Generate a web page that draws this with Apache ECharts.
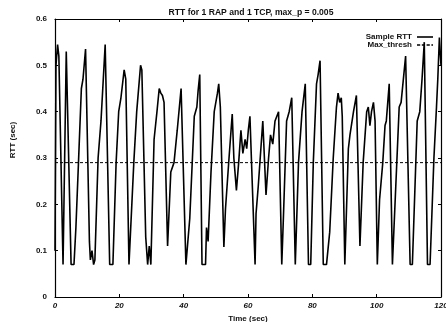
<!DOCTYPE html>
<html>
<head>
<meta charset="utf-8">
<script src="https://cdn.jsdelivr.net/npm/echarts@6/dist/echarts.min.js"></script>
<style>html,body{margin:0;padding:0;background:#fff}#c{width:446px;height:322px}</style>
</head>
<body>
<div id="c"></div>
<script>
var titleText = 'RTT for 1 RAP and 1 TCP, max_p = 0.005';
var xName = 'Time (sec)';
var yName = 'RTT (sec)';
var seriesNames = ['Sample RTT', 'Max_thresh'];
var xTicks = [0, 20, 40, 60, 80, 100, 120];
var yTicks = [0, 0.1, 0.2, 0.3, 0.4, 0.5, 0.6];
var timeSec = [0.0,0.3,0.8,1.2,2.5,2.9,3.5,5.0,5.9,6.5,7.3,8.2,8.7,9.5,10.7,11.0,11.5,12.0,12.4,13.4,14.3,15.6,17.0,18.0,19.0,19.8,20.5,21.5,22.0,23.0,23.5,24.5,25.4,26.6,27.0,28.2,28.8,29.3,29.8,30.8,31.7,32.4,32.9,33.4,33.9,35.0,35.5,36.0,37.0,38.0,39.2,40.7,41.1,41.9,43.3,44.1,44.5,45.0,45.7,46.8,47.1,47.6,48.5,49.5,50.5,50.9,51.4,52.5,53.0,54.1,55.1,55.6,56.4,57.1,57.8,58.4,59.1,59.6,60.1,60.6,62.2,62.5,63.2,64.6,65.6,66.4,67.0,67.7,68.4,69.5,70.5,71.0,72.0,72.8,73.6,74.7,75.7,76.8,77.8,78.8,79.5,80.3,81.3,81.8,82.4,83.4,84.4,85.4,86.5,87.5,88.0,88.5,89.0,89.3,90.1,91.2,91.7,92.8,93.7,94.8,95.8,96.9,97.4,97.9,98.4,99.0,99.5,100.2,100.9,101.9,102.6,103.0,103.9,104.9,105.5,107.0,107.6,109.0,110.4,111.1,112.6,113.4,114.1,114.8,115.8,116.6,117.8,118.6,119.0,119.5,120.0];
var rttSec = [0.10,0.50,0.545,0.52,0.07,0.07,0.53,0.07,0.07,0.15,0.29,0.45,0.47,0.535,0.12,0.08,0.10,0.07,0.08,0.30,0.38,0.545,0.07,0.07,0.29,0.40,0.43,0.49,0.47,0.07,0.07,0.29,0.40,0.50,0.49,0.13,0.07,0.11,0.07,0.34,0.40,0.45,0.44,0.435,0.42,0.11,0.19,0.27,0.29,0.36,0.45,0.07,0.07,0.17,0.39,0.41,0.446,0.48,0.07,0.07,0.15,0.12,0.27,0.40,0.44,0.46,0.41,0.108,0.19,0.30,0.395,0.30,0.23,0.29,0.36,0.31,0.34,0.32,0.36,0.39,0.07,0.18,0.24,0.38,0.22,0.30,0.35,0.33,0.38,0.40,0.07,0.17,0.38,0.40,0.43,0.07,0.29,0.40,0.46,0.07,0.07,0.29,0.46,0.48,0.51,0.07,0.07,0.14,0.30,0.41,0.44,0.42,0.43,0.39,0.07,0.32,0.35,0.40,0.435,0.11,0.29,0.40,0.41,0.37,0.40,0.42,0.38,0.07,0.21,0.29,0.37,0.38,0.46,0.07,0.07,0.41,0.42,0.52,0.07,0.07,0.38,0.40,0.47,0.55,0.07,0.07,0.30,0.41,0.47,0.56,0.50];
var threshTime = [0, 120];
var threshValue = [0.29, 0.29];

var rttData = timeSec.map(function (t, i) { return [t, rttSec[i]]; });
var threshData = threshTime.map(function (t, i) { return [t, threshValue[i]]; });

var font = 'Liberation Sans';
var chart = echarts.init(document.getElementById('c'), null, {renderer: 'canvas'});
function axisCommon() {
  return {
    axisLine: {show: true, onZero: false, lineStyle: {color: '#000', width: 1.2}},
    axisTick: {show: true, inside: true, length: 3, lineStyle: {color: '#000', width: 1}},
    splitLine: {show: false}
  };
}
chart.setOption({
  animation: false,
  backgroundColor: '#fff',
  title: {
    text: titleText, left: 246, top: 3, textAlign: 'center',
    textStyle: {fontFamily: font, fontSize: 8.6, fontWeight: 'bold', color: '#111'}
  },
  legend: {
    right: 8, top: 28, orient: 'vertical', align: 'right', itemGap: 0,
    itemWidth: 16, itemHeight: 6,
    textStyle: {fontFamily: font, fontSize: 8, fontWeight: 'bold', color: '#111'},
    data: [
      {name: seriesNames[0], icon: 'path://M0,0 L10,0 L10,1 L0,1 Z'},
      {name: seriesNames[1], icon: 'path://M0,0 L2,0 L2,1 L0,1 Z M3,0 L5,0 L5,1 L3,1 Z M6,0 L8,0 L8,1 L6,1 Z M9,0 L10,0 L10,1 L9,1 Z'}
    ]
  },
  grid: {left: 55, right: 5, top: 19, bottom: 25, show: false, containLabel: false, outerBoundsMode: 'none'},
  xAxis: [
    Object.assign(axisCommon(), {
      type: 'value', min: xTicks[0], max: xTicks[xTicks.length - 1], interval: 20, position: 'bottom',
      name: xName, nameLocation: 'middle', nameGap: 11,
      nameTextStyle: {fontFamily: font, fontSize: 8, fontWeight: 'bold', color: '#111'},
      axisLabel: {fontFamily: font, fontSize: 8, fontWeight: 'bold', fontStyle: 'italic', color: '#111', margin: 5}
    }),
    Object.assign(axisCommon(), {
      type: 'value', min: xTicks[0], max: xTicks[xTicks.length - 1], interval: 20, position: 'top',
      axisLabel: {show: false}
    })
  ],
  yAxis: [
    Object.assign(axisCommon(), {
      type: 'value', min: yTicks[0], max: yTicks[yTicks.length - 1], interval: 0.1, position: 'left',
      name: yName, nameLocation: 'middle', nameGap: 38,
      nameTextStyle: {fontFamily: font, fontSize: 8, fontWeight: 'bold', color: '#111', padding: [0, 0, 0, 36]},
      axisLabel: {fontFamily: font, fontSize: 8, fontWeight: 'bold', color: '#111', margin: 8,
        formatter: function (v) { return v === 0 ? '0' : v.toFixed(1); }}
    }),
    Object.assign(axisCommon(), {
      type: 'value', min: yTicks[0], max: yTicks[yTicks.length - 1], interval: 0.1, position: 'right',
      axisLabel: {show: false}
    })
  ],
  series: [
    {
      name: seriesNames[0], type: 'line', data: rttData, showSymbol: false, symbol: 'none',
      lineStyle: {color: '#000', width: 1.6}, itemStyle: {color: '#000'}, z: 3
    },
    {
      name: seriesNames[1], type: 'line', data: threshData, showSymbol: false, symbol: 'none',
      lineStyle: {color: '#000', width: 1, type: [3, 2]}, itemStyle: {color: '#000'}, z: 2
    }
  ]
});
</script>
</body>
</html>
